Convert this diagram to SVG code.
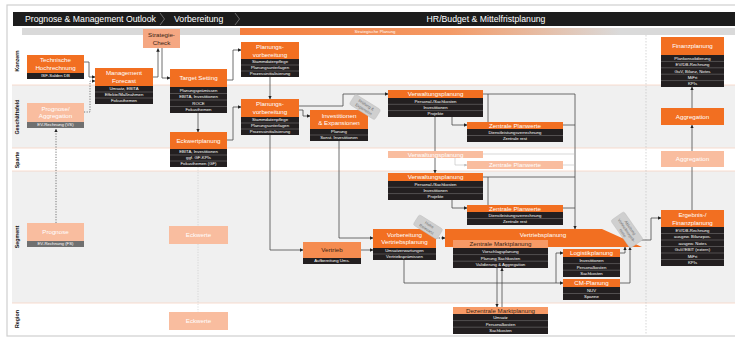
<svg xmlns="http://www.w3.org/2000/svg" width="735" height="339" viewBox="0 0 735 339">
<style>
text{font-family:"Liberation Sans","DejaVu Sans",sans-serif}
.o{fill:#f26f21}
.lo{fill:#f79a66}
.f{fill:#f9bd9f}
.blk{fill:#231f20}
.gr{fill:#707070}
.sep{stroke:#9a9a9a;stroke-width:0.4}
.t{font-size:6.2px;fill:#fff;text-anchor:middle}
.td{font-size:6.2px;fill:#3b2414;text-anchor:middle}
.rt{font-size:4.3px;fill:#fff;text-anchor:middle}
.ln{fill:none;stroke:#4a4a4a;stroke-width:0.8}
.lnf{fill:none;stroke:#bdbdbd;stroke-width:0.6}
.dot{fill:none;stroke:#555;stroke-width:0.8;stroke-dasharray:1.2 1.4}
.lane{font-size:5.3px;font-weight:bold;fill:#111;text-anchor:middle}
.hd{font-size:8.7px;fill:#fff}
.note{fill:#cfcfcf;stroke:#b8b8b8;stroke-width:0.4}
.nt{font-size:4px;fill:#6e6e6e;text-anchor:middle}
</style>
<defs>
<marker id="ar" viewBox="0 0 6 6" refX="5.5" refY="3" markerWidth="3.6" markerHeight="3.6" orient="auto" markerUnits="userSpaceOnUse"><path d="M0,0L6,3L0,6z" fill="#222"/></marker>
<marker id="arf" viewBox="0 0 6 6" refX="5.5" refY="3" markerWidth="3" markerHeight="3" orient="auto" markerUnits="userSpaceOnUse"><path d="M0,0L6,3L0,6z" fill="#bbb"/></marker>
<linearGradient id="sp" x1="240" y1="0" x2="620" y2="0" gradientUnits="userSpaceOnUse">
<stop offset="0" stop-color="#f47d3c"/><stop offset="0.55" stop-color="#f49a66"/><stop offset="1" stop-color="#dadada"/>
</linearGradient>
</defs>
<rect x="0" y="0" width="735" height="339" fill="#fff"/>
<rect x="7" y="5" width="730" height="331" fill="none" stroke="#cfcfcf" stroke-width="1.2"/>
<!-- lanes -->
<g id="lanes">
<rect x="12" y="35" width="723" height="50" fill="#fff"/>
<rect x="12" y="85" width="723" height="63" fill="#f0f0f0"/>
<rect x="12" y="148" width="723" height="23" fill="#fff"/>
<rect x="12" y="171" width="723" height="132" fill="#f0f0f0"/>
<rect x="12" y="303" width="723" height="32" fill="#fff"/>
<g stroke="#f6d3c3" stroke-width="0.8">
<line x1="12" y1="85" x2="735" y2="85"/><line x1="12" y1="148" x2="735" y2="148"/><line x1="12" y1="171" x2="735" y2="171"/><line x1="12" y1="303" x2="735" y2="303"/>
</g>
<text class="lane" transform="translate(19,61) rotate(-90)">Konzern</text>
<text class="lane" transform="translate(19,117) rotate(-90)">Geschäftsfeld</text>
<text class="lane" transform="translate(19,160) rotate(-90)">Sparte</text>
<text class="lane" transform="translate(19,237) rotate(-90)">Segment</text>
<text class="lane" transform="translate(19,319) rotate(-90)">Region</text>
<line x1="646" y1="35" x2="646" y2="335" stroke="#c4c4c4" stroke-width="0.7" stroke-dasharray="1.5 1.5"/>
</g>
<!-- header -->
<g id="header">
<rect x="13" y="12" width="722" height="14" fill="#1c1c1c"/>
<text class="hd" x="25" y="22.3">Prognose &amp; Management Outlook</text>
<text class="hd" x="174" y="22.3">Vorbereitung</text>
<text class="hd" x="486" y="22.3" text-anchor="middle">HR/Budget &amp; Mittelfristplanung</text>
<polyline points="160,13 164.5,19 160,25" fill="none" stroke="#8a8a8a" stroke-width="0.7"/>
<polyline points="235,13 239.5,19 235,25" fill="none" stroke="#8a8a8a" stroke-width="0.7"/>
<rect x="22" y="28" width="713" height="7" fill="#d9d9d9"/>
<rect x="240" y="28" width="400" height="7" fill="url(#sp)"/>
<text x="375" y="33.3" font-size="4.3" fill="#fff" text-anchor="middle">Strategische Planung</text>
</g>
<!-- connectors -->
<g id="connectors">
<path class="ln" d="M84,62H89V77H95" marker-end="url(#ar)"/>
<path class="dot" d="M84,112H90V81H95" marker-end="url(#ar)"/>
<path class="dot" d="M56,223V129" marker-end="url(#ar)"/>
<path class="ln" d="M153,77H158V48.5" marker-end="url(#ar)"/>
<path class="ln" d="M162,48V78H170" marker-end="url(#ar)"/>
<path class="ln" d="M227,80H233V50H241" marker-end="url(#ar)"/>
<path class="ln" d="M198,113V132" marker-end="url(#ar)"/>
<path class="ln" d="M227,140H233V107H241" marker-end="url(#ar)"/>
<path class="ln" d="M270,77V99" marker-end="url(#ar)"/>
<path class="ln" d="M299,110H303V116H310" marker-end="url(#ar)"/>
<path class="ln" d="M299,106H343V94H388" marker-end="url(#ar)"/>
<path class="ln" d="M452,117V125H467" marker-end="url(#ar)"/>
<path class="ln" d="M435,117V173" marker-end="url(#ar)"/>
<path class="ln" d="M483,94H575V229" marker-end="url(#ar)"/>
<path class="ln" d="M488,94V122"/>
<path class="ln" d="M563,125H575"/>
<path class="lnf" d="M483,154H575"/>
<path class="lnf" d="M455,158V165H467" marker-end="url(#arf)"/>
<path class="lnf" d="M563,165H575"/>
<path class="ln" d="M452,200V208H467" marker-end="url(#ar)"/>
<path class="ln" d="M483,177H575"/>
<path class="ln" d="M488,177V205"/>
<path class="ln" d="M563,208H575"/>
<path class="ln" d="M270,135V250H303" marker-end="url(#ar)"/>
<path class="ln" d="M339,141V238H373" marker-end="url(#ar)"/>
<path class="ln" d="M361,250H373" marker-end="url(#ar)"/>
<path class="ln" d="M436,238H445" stroke-dasharray="1.5 1" marker-end="url(#ar)"/>
<path class="ln" d="M404,260V283H563" marker-end="url(#ar)"/>
<path class="ln" d="M556,283V253H563" marker-end="url(#ar)"/>
<path class="ln" d="M497,268V307" marker-end="url(#ar)"/>
<path class="ln" d="M502,307V268" marker-end="url(#ar)"/>
<path class="ln" d="M620,253H625V247" marker-end="url(#ar)"/>
<path class="ln" d="M620,283H630V247" marker-end="url(#ar)"/>
<path class="ln" d="M630,240H651V218H661" marker-end="url(#ar)"/>
<path class="ln" d="M692,108V87" marker-end="url(#ar)"/>
<path class="ln" d="M692,210V125" marker-end="url(#ar)"/>
<path d="M198,167V226M198,244V312" fill="none" stroke="#c8c8c8" stroke-width="0.6" stroke-dasharray="1.2 1.4"/>
</g>
<!-- nodes -->
<g id="tech-hochrechnung">
<rect class="o" x="27" y="55" width="57" height="18"/>
<text class="t" x="55.5" y="62.3">Technische</text><text class="t" x="55.5" y="70">Hochrechnung</text>
<rect class="blk" x="27" y="73" width="57" height="6"/><text class="rt" x="55.5" y="77.4">ISF-Salden DB</text>
</g>
<g id="management-forecast">
<rect class="o" x="95" y="68" width="58" height="18"/>
<text class="t" x="124" y="75.3">Management</text><text class="t" x="124" y="83">Forecast</text>
<rect class="blk" x="95" y="86" width="58" height="18"/>
<path class="sep" d="M95,92H153M95,98H153"/>
<text class="rt" x="124" y="90.4">Umsatz, EBITA</text><text class="rt" x="124" y="96.4">Effekte/Maßnahmen</text><text class="rt" x="124" y="102.4">Fokusthemen</text>
</g>
<g id="strategie-check">
<rect x="143" y="29" width="37" height="19" fill="#f5a782"/>
<text class="td" x="161.5" y="37">Strategie-</text><text class="td" x="161.5" y="44.5">Check</text>
</g>
<g id="target-setting">
<rect class="o" x="170" y="69" width="57" height="18"/>
<text class="t" x="198.5" y="80.2">Target Setting</text>
<rect class="blk" x="170" y="87" width="57" height="26"/>
<path class="sep" d="M170,93.5H227M170,100H227M170,106.5H227"/>
<text class="rt" x="198.5" y="91.7">Planungsprämissen</text><text class="rt" x="198.5" y="98.2">EBITA, Investitionen</text><text class="rt" x="198.5" y="104.7">ROCE</text><text class="rt" x="198.5" y="111.2">Fokusthemen</text>
</g>
<g id="eckwertplanung">
<rect class="o" x="170" y="132" width="57" height="17"/>
<text class="t" x="198.5" y="142.7">Eckwertplanung</text>
<rect class="blk" x="170" y="149" width="57" height="18"/>
<path class="sep" d="M170,155H227M170,161H227"/>
<text class="rt" x="198.5" y="153.4">EBITA, Investitionen</text><text class="rt" x="198.5" y="159.4">ggf. GF-KPIs</text><text class="rt" x="198.5" y="165.4">Fokusthemen (GF)</text>
</g>
<g id="planungsvorbereitung-konzern">
<rect class="o" x="241" y="42" width="58" height="17"/>
<text class="t" x="270" y="49">Planungs-</text><text class="t" x="270" y="56.5">vorbereitung</text>
<rect class="blk" x="241" y="59" width="58" height="18"/>
<path class="sep" d="M241,65H299M241,71H299"/>
<text class="rt" x="270" y="63.4">Stammdatenpflege</text><text class="rt" x="270" y="69.4">Planungsunterlagen</text><text class="rt" x="270" y="75.4">Prozessinitialisierung</text>
</g>
<g id="planungsvorbereitung-gf">
<rect class="o" x="241" y="99" width="58" height="18"/>
<text class="t" x="270" y="106.3">Planungs-</text><text class="t" x="270" y="114">vorbereitung</text>
<rect class="blk" x="241" y="117" width="58" height="18"/>
<path class="sep" d="M241,123H299M241,129H299"/>
<text class="rt" x="270" y="121.4">Stammdatenpflege</text><text class="rt" x="270" y="127.4">Planungsunterlagen</text><text class="rt" x="270" y="133.4">Prozessinitialisierung</text>
</g>
<g id="prognose-aggregation">
<rect class="f" x="27" y="103" width="57" height="19"/>
<text class="t" x="55.5" y="110.7">Prognose/</text><text class="t" x="55.5" y="118.4">Aggregation</text>
<rect class="gr" x="27" y="122" width="57" height="6"/><text class="rt" x="55.5" y="126.4">EV-Rechnung (VS)</text>
</g>
<g id="prognose-segment">
<rect class="f" x="27" y="223" width="57" height="18"/>
<text class="t" x="55.5" y="234.2">Prognose</text>
<rect class="gr" x="27" y="241" width="57" height="6"/><text class="rt" x="55.5" y="245.4">EV-Rechnung (FS)</text>
</g>
<g id="eckwerte-segment">
<rect class="f" x="169" y="226" width="59" height="18"/><text class="t" x="198.5" y="237.2">Eckwerte</text>
</g>
<g id="eckwerte-region">
<rect class="f" x="169" y="312" width="59" height="18"/><text class="t" x="198.5" y="323.2">Eckwerte</text>
</g>
<g id="investitionen">
<rect class="o" x="310" y="110" width="58" height="19"/>
<text class="t" x="339" y="117.6">Investitionen</text><text class="t" x="339" y="125.4">&amp; Expansionen</text>
<rect class="blk" x="310" y="129" width="58" height="12"/>
<path class="sep" d="M310,135H368"/>
<text class="rt" x="339" y="133.4">Planung</text><text class="rt" x="339" y="139.4">Sonst. Investitionen</text>
</g>
<g id="verwaltungsplanung-gf">
<rect class="o" x="388" y="90" width="95" height="8"/>
<text class="t" x="435.5" y="96.3">Verwaltungsplanung</text>
<rect class="blk" x="388" y="98" width="95" height="19"/>
<path class="sep" d="M388,104.3H483M388,110.6H483"/>
<text class="rt" x="435.5" y="102.6">Personal-/Sachkosten</text><text class="rt" x="435.5" y="108.9">Investitionen</text><text class="rt" x="435.5" y="115.2">Projekte</text>
</g>
<g id="zentrale-planwerte-gf">
<rect class="o" x="467" y="122" width="96" height="7"/>
<text class="t" x="515" y="127.6">Zentrale Planwerte</text>
<rect class="blk" x="467" y="129" width="96" height="13"/>
<path class="sep" d="M467,135.5H563"/>
<text class="rt" x="515" y="133.7">Dienstleistungsverrechnung</text><text class="rt" x="515" y="140.2">Zentrale rest</text>
</g>
<g id="verwaltungsplanung-sparte">
<rect class="f" x="388" y="151" width="95" height="7"/><text class="t" x="435.5" y="156.7">Verwaltungsplanung</text>
</g>
<g id="zentrale-planwerte-sparte">
<rect class="f" x="467" y="161" width="96" height="8"/><text class="t" x="515" y="167.2">Zentrale Planwerte</text>
</g>
<g id="verwaltungsplanung-segment">
<rect class="o" x="388" y="173" width="95" height="8"/>
<text class="t" x="435.5" y="179.3">Verwaltungsplanung</text>
<rect class="blk" x="388" y="181" width="95" height="19"/>
<path class="sep" d="M388,187.3H483M388,193.6H483"/>
<text class="rt" x="435.5" y="185.6">Personal-/Sachkosten</text><text class="rt" x="435.5" y="191.9">Investitionen</text><text class="rt" x="435.5" y="198.2">Projekte</text>
</g>
<g id="zentrale-planwerte-segment">
<rect class="o" x="467" y="205" width="96" height="7"/>
<text class="t" x="515" y="210.6">Zentrale Planwerte</text>
<rect class="blk" x="467" y="212" width="96" height="13"/>
<path class="sep" d="M467,218.5H563"/>
<text class="rt" x="515" y="216.7">Dienstleistungsverrechnung</text><text class="rt" x="515" y="223.2">Zentrale rest</text>
</g>
<g id="vertrieb">
<rect x="303" y="242" width="58" height="16" fill="#f58c50"/>
<text class="td" x="332" y="252.2">Vertrieb</text>
<rect class="blk" x="303" y="258" width="58" height="6"/><text class="rt" x="332" y="262.4">Aufbereitung Ums.</text>
</g>
<g id="vorbereitung-vertriebsplanung">
<rect class="o" x="373" y="229" width="63" height="19"/>
<text class="t" x="404.5" y="236.6">Vorbereitung</text><text class="t" x="404.5" y="244.4">Vertriebsplanung</text>
<rect class="blk" x="373" y="248" width="63" height="12"/>
<path class="sep" d="M373,254H436"/>
<text class="rt" x="404.5" y="252.4">Umsatzerwartungen</text><text class="rt" x="404.5" y="258.4">Vertriebsprämissen</text>
</g>
<g id="vertriebsplanung">
<polygon class="o" points="445,229 602,229 642,247 445,247"/>
<text class="t" x="543" y="236.5">Vertriebsplanung</text>
</g>
<g id="zentrale-marktplanung">
<rect class="lo" x="453" y="240" width="95" height="8"/>
<text class="td" x="500.5" y="246.2">Zentrale Marktplanung</text>
<rect class="blk" x="453" y="248" width="95" height="20"/>
<path class="sep" d="M453,254.6H548M453,261.2H548"/>
<text class="rt" x="500.5" y="252.9">Vorschlagsplanung</text><text class="rt" x="500.5" y="259.5">Planung Sachkosten</text><text class="rt" x="500.5" y="266.1">Validierung &amp; Aggregation</text>
</g>
<g id="dezentrale-marktplanung">
<rect class="lo" x="453" y="307" width="95" height="7"/>
<text class="td" x="500.5" y="312.7">Dezentrale Marktplanung</text>
<rect class="blk" x="453" y="314" width="95" height="20"/>
<path class="sep" d="M453,320.6H548M453,327.2H548"/>
<text class="rt" x="500.5" y="318.9">Umsatz</text><text class="rt" x="500.5" y="325.5">Personalkosten</text><text class="rt" x="500.5" y="332.1">Sachkosten</text>
</g>
<g id="logistikplanung">
<rect class="o" x="563" y="249" width="57" height="8"/>
<text class="t" x="591.5" y="255.3">Logistikplanung</text>
<rect class="blk" x="563" y="257" width="57" height="20"/>
<path class="sep" d="M563,263.6H620M563,270.2H620"/>
<text class="rt" x="591.5" y="261.9">Investitionen</text><text class="rt" x="591.5" y="268.5">Personalkosten</text><text class="rt" x="591.5" y="275.1">Sachkosten</text>
</g>
<g id="cm-planung">
<rect class="o" x="563" y="279" width="57" height="8"/>
<text class="t" x="591.5" y="285.3">CM-Planung</text>
<rect class="blk" x="563" y="287" width="57" height="13"/>
<path class="sep" d="M563,293.5H620"/>
<text class="rt" x="591.5" y="291.7">NUV</text><text class="rt" x="591.5" y="298.2">Spanne</text>
</g>
<g id="finanzplanung">
<rect class="o" x="661" y="37" width="63" height="18"/>
<text class="t" x="692.5" y="48.2">Finanzplanung</text>
<rect class="blk" x="661" y="55" width="63" height="32"/>
<path class="sep" d="M661,61.4H724M661,67.8H724M661,74.2H724M661,80.6H724"/>
<text class="rt" x="692.5" y="59.7">Plankonsolidierung</text><text class="rt" x="692.5" y="66.1">EV/DB-Rechnung</text><text class="rt" x="692.5" y="72.5">GuV, Bilanz, Notes</text><text class="rt" x="692.5" y="78.9">MiFri</text><text class="rt" x="692.5" y="85.3">KPIs</text>
</g>
<g id="aggregation-gf">
<rect class="o" x="661" y="108" width="63" height="17"/><text class="t" x="692.5" y="118.7">Aggregation</text>
</g>
<g id="aggregation-sparte">
<rect class="f" x="661" y="151" width="63" height="16"/><text class="t" x="692.5" y="161.2">Aggregation</text>
</g>
<g id="ergebnis-finanzplanung">
<rect class="o" x="661" y="210" width="63" height="17"/>
<text class="t" x="692.5" y="217">Ergebnis-/</text><text class="t" x="692.5" y="224.7">Finanzplanung</text>
<rect class="blk" x="661" y="227" width="63" height="39"/>
<path class="sep" d="M661,233.5H724M661,240H724M661,246.5H724M661,253H724M661,259.5H724"/>
<text class="rt" x="692.5" y="231.7">EV/DB-Rechnung</text><text class="rt" x="692.5" y="238.2">ausgew. Bilanzpos.</text><text class="rt" x="692.5" y="244.7">ausgew. Notes</text><text class="rt" x="692.5" y="251.2">GuV/EBIT (extern)</text><text class="rt" x="692.5" y="257.7">MiFri</text><text class="rt" x="692.5" y="264.2">KPIs</text>
</g>
<!-- notes -->
<g id="note-pruefung" transform="translate(365,107) rotate(32)">
<rect class="note" x="-15" y="-6" width="30" height="12" rx="2"/>
<text class="nt" x="0" y="-1">Prüfung &amp;</text><text class="nt" x="0" y="4">Expansion</text>
</g>
<g id="note-relevanz" transform="translate(428,227) rotate(32)">
<rect class="note" x="-14" y="-6" width="28" height="12" rx="2"/>
<text class="nt" x="0" y="-1">Hohe</text><text class="nt" x="0" y="4">Relevanz</text>
</g>
<g id="note-ableitung" transform="translate(627,230) rotate(55)">
<rect class="note" x="-17" y="-8" width="34" height="16" rx="2"/>
<text class="nt" x="0" y="-2.5">Ableitung</text><text class="nt" x="0" y="2">Vertriebsergeb-</text><text class="nt" x="0" y="6.5">nisse</text>
</g>
</svg>
